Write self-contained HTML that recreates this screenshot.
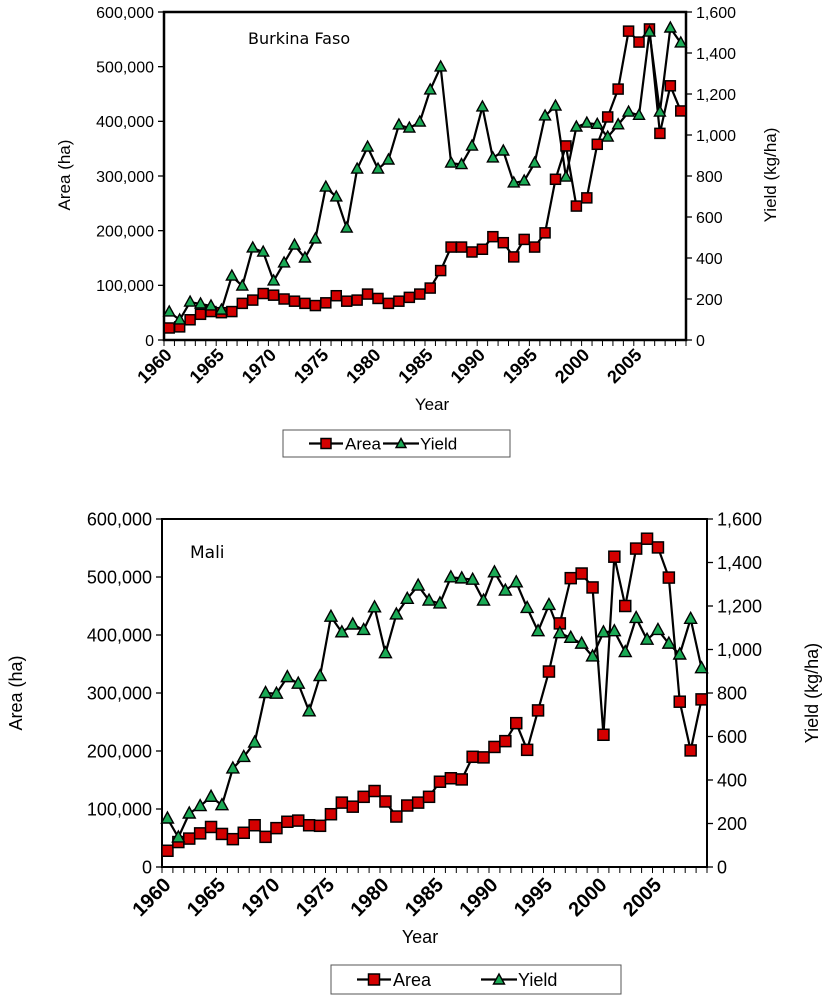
<!DOCTYPE html>
<html><head><meta charset="utf-8"><style>
html,body{margin:0;padding:0;background:#fff;}
svg{display:block;font-family:"Liberation Sans",Arial,sans-serif;}
</style></head><body>
<svg id="s" width="835" height="1000" viewBox="0 0 835 1000"></svg>
<script>
const years = [];
for (let y = 1960; y <= 2009; y++) years.push(y);
const bfArea = [22,24,37,47,52,50,52,67,73,85,82,75,71,67,63,68,81,71,73,84,76,67,71,78,84,95,127,170,170,161,166,189,178,152,184,170,196,294,355,245,260,358,408,459,565,545,569,378,465,419];
const bfYield = [137,98,185,176,166,146,312,263,449,429,288,376,463,400,493,746,698,546,834,941,834,878,1049,1034,1063,1220,1332,863,856,946,1137,888,922,766,776,863,1093,1141,795,1039,1058,1052,990,1050,1112,1096,1502,1112,1522,1449];
const mlArea = [28,43,49,58,69,57,48,59,72,52,67,78,80,72,71,91,111,104,121,131,113,87,106,111,121,147,153,151,190,189,207,217,248,202,270,337,420,498,506,482,228,535,450,549,566,551,499,285,201,289];
const mlYield = [223,136,246,280,323,284,453,506,572,800,797,873,843,716,878,1151,1079,1115,1090,1194,983,1161,1233,1294,1225,1212,1332,1327,1321,1225,1355,1271,1309,1191,1084,1205,1075,1054,1027,968,1079,1084,988,1145,1045,1090,1027,977,1141,914];
const areaTicks = ["0","100,000","200,000","300,000","400,000","500,000","600,000"];
const yieldTicks = ["0","200","400","600","800","1,000","1,200","1,400","1,600"];
const yearLabels = [1960,1965,1970,1975,1980,1985,1990,1995,2000,2005];

const NS = "http://www.w3.org/2000/svg";
const svg = document.getElementById('s');
function mk(tag, attrs, parent, text) {
  const e = document.createElementNS(NS, tag);
  for (const k in attrs) e.setAttribute(k, attrs[k]);
  if (text !== undefined) e.textContent = text;
  (parent || svg).appendChild(e);
  return e;
}

function chart(cfg, area, yld, pre) {
  const g = mk('g', {});
  
  
  const {x0, x1, y0, y1, fs, ms} = cfg;
  const n = years.length, cw = (x1 - x0) / n;
  const xs = i => x0 + cw * (i + 0.5);
  const ya = v => y0 - (v / 600) * (y0 - y1);
  const yy = v => y0 - (v / 1600) * (y0 - y1);
  const fr = mk('rect', {x:x0, y:y1, width:x1-x0, height:y0-y1, fill:'none', stroke:'#000', 'stroke-width':cfg.fw}, g);
  
  
  areaTicks.forEach((t, i) => {
    const y = ya(i * 100);
    mk('line', {x1:x0-6, x2:x0, y1:y, y2:y, stroke:'#000', 'stroke-width':1.3}, g);
    const tx = mk('text', {x:x0-10, y:y+fs*0.36, 'text-anchor':'end', 'font-size':fs, fill:'#000'}, g, t);
    
    
  });
  yieldTicks.forEach((t, i) => {
    const y = yy(i * 200);
    mk('line', {x1:x1, x2:x1+6, y1:y, y2:y, stroke:'#000', 'stroke-width':1.3}, g);
    const tx = mk('text', {x:x1+10, y:y+fs*0.36, 'text-anchor':'start', 'font-size':fs, fill:'#000'}, g, t);
    
    
  });
  for (let i = 0; i <= n; i++) {
    const x = x0 + cw * i;
    mk('line', {x1:x, x2:x, y1:y0, y2:y0+6, stroke:'#000', 'stroke-width':1}, g);
  }
  yearLabels.forEach(yr => {
    const i = years.indexOf(yr);
    const x = x0 + cw * i + cfg.lx, y = y0 + cfg.ly;
    const tx = mk('text', {x:x, y:y, 'text-anchor':'end', 'font-size':cfg.xfs, 'font-weight':'bold', transform:`rotate(-45 ${x} ${y})`}, g, String(yr));
    
    
  });
  let t = mk('text', {x:cfg.atx, y:cfg.aty, 'text-anchor':'middle', 'font-size':cfg.tfs, transform:`rotate(-90 ${cfg.atx} ${cfg.aty})`}, g, 'Area (ha)');
  
  
  t = mk('text', {x:cfg.ytx, y:cfg.yty, 'text-anchor':'middle', 'font-size':cfg.tfs, transform:`rotate(-90 ${cfg.ytx} ${cfg.yty})`}, g, 'Yield (kg/ha)');
  
  
  t = mk('text', {x:cfg.xtx, y:cfg.xty, 'text-anchor':'middle', 'font-size':cfg.tfs}, g, 'Year');
  
  
  t = mk('text', {x:cfg.ctx, y:cfg.cty, 'font-size':cfg.cfs, 'font-family':'"DejaVu Sans",sans-serif'}, g, cfg.name);
  
  
  const yp = yld.map((v, i) => xs(i) + ',' + yy(v)).join(' ');
  const ln2 = mk('polyline', {points:yp, fill:'none', stroke:'#000', 'stroke-width':2.2}, g);
  
  
  const ap = area.map((v, i) => xs(i) + ',' + ya(v)).join(' ');
  const ln1 = mk('polyline', {points:ap, fill:'none', stroke:'#000', 'stroke-width':2.2}, g);
  
  
  const h = ms / 2;
  area.forEach((v, i) => {
    const r = mk('rect', {x:xs(i)-h, y:ya(v)-h, width:ms, height:ms, fill:'#d40000', stroke:'#000', 'stroke-width':1.5}, g);
    
    
  });
  yld.forEach((v, i) => {
    const x = xs(i), y = yy(v);
    const p = mk('polygon', {points:`${x},${y-h-1} ${x-h-0.5},${y+h-1} ${x+h+0.5},${y+h-1}`, fill:'#1aaa55', stroke:'#000', 'stroke-width':1.4}, g);
    
    
  });
  const L = cfg.leg;
  const lg = mk('g', {}, g);
  
  
  mk('rect', {x:L.x, y:L.y, width:L.w, height:L.h, fill:'#fff', stroke:'#555', 'stroke-width':1}, lg);
  const cy = L.y + L.h / 2;
  mk('line', {x1:L.x+26, x2:L.x+60, y1:cy, y2:cy, stroke:'#000', 'stroke-width':2.2}, lg);
  mk('rect', {x:L.x+43-h, y:cy-h, width:ms, height:ms, fill:'#d40000', stroke:'#000', 'stroke-width':1.5}, lg);
  let lt = mk('text', {x:L.x+62, y:cy+cfg.tfs*0.36, 'font-size':cfg.tfs}, lg, 'Area');
  
  
  const lx = L.x + L.s;
  mk('line', {x1:lx, x2:lx+36, y1:cy, y2:cy, stroke:'#000', 'stroke-width':2.2}, lg);
  mk('polygon', {points:`${lx+18},${cy-h} ${lx+18-h},${cy+h-1} ${lx+18+h},${cy+h-1}`, fill:'#1aaa55', stroke:'#000', 'stroke-width':1.4}, lg);
  lt = mk('text', {x:lx+37, y:cy+cfg.tfs*0.36, 'font-size':cfg.tfs}, lg, 'Yield');
  
  
}

chart({x0:164, x1:686, y0:340, y1:12, fs:16, xfs:18, tfs:17, ms:10, fw:2.5, lx:9, ly:16,
  atx:70, aty:175, ytx:776, yty:175, xtx:432, xty:410, ctx:248, cty:44, cfs:16, name:'Burkina Faso',
  leg:{x:283, y:430, w:227, h:27, s:100}}, bfArea, bfYield, 'burkina-faso');
chart({x0:162, x1:707, y0:867, y1:519, fs:18, xfs:20, tfs:18, ms:11, fw:2, lx:10, ly:19,
  atx:22, aty:693, ytx:818, yty:693, xtx:420, xty:943, ctx:190, cty:558, cfs:17, name:'Mali',
  leg:{x:331, y:965, w:290, h:29, s:150}}, mlArea, mlYield, 'mali');
</script>
</body></html>
